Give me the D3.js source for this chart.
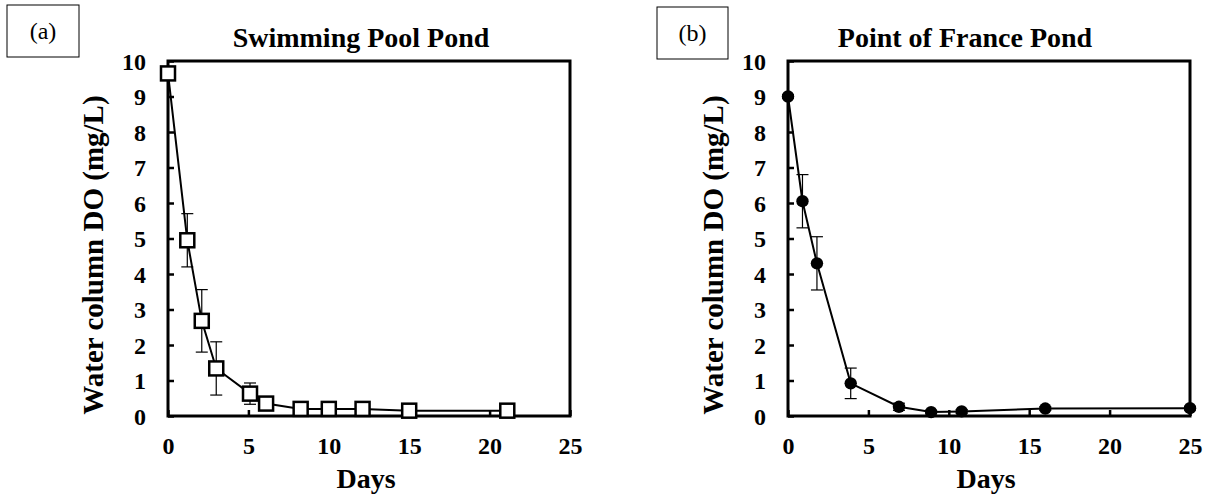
<!DOCTYPE html>
<html>
<head>
<meta charset="utf-8">
<script src="https://cdn.jsdelivr.net/npm/d3@7"></script>
<style>
  html, body { margin: 0; padding: 0; background: #fff; }
  svg text { font-family: "Liberation Serif", "Times New Roman", serif; fill: #000; }
</style>
</head>
<body>
<svg id="chart" width="1208" height="498"></svg>
<script>
// ---- data ----
const daysA = [0, 1.2, 2.1, 3.0, 5.1, 6.1, 8.25, 10, 12.1, 15, 21.1];
const doA   = [9.65, 4.95, 2.68, 1.34, 0.63, 0.35, 0.2, 0.2, 0.2, 0.15, 0.15];
const errA  = [0.05, 0.75, 0.88, 0.75, 0.3, 0.05, 0.03, 0.03, 0.03, 0.03, 0.03];

const daysB = [0, 0.9, 1.8, 3.9, 6.9, 8.9, 10.8, 16, 25];
const doB   = [9.0, 6.05, 4.3, 0.92, 0.26, 0.11, 0.13, 0.21, 0.22];
const errB  = [0.05, 0.75, 0.75, 0.43, 0.1, 0.05, 0.05, 0.05, 0.05];

const xTicks = [0, 5, 10, 15, 20, 25];
const yTicks = [0, 1, 2, 3, 4, 5, 6, 7, 8, 9, 10];

const panels = [
  { tag: "(a)", title: "Swimming Pool Pond", days: daysA, vals: doA, errs: errA, marker: "square",
    left: 168, right: 570, box: [7, 5, 72, 52], titleX: 361 },
  { tag: "(b)", title: "Point of France Pond", days: daysB, vals: doB, errs: errB, marker: "circle",
    left: 788, right: 1190, box: [657, 7, 71, 52], titleX: 965 }
];

const svg = d3.select("#chart");
const plotTop = 61, plotBottom = 416;
const serif = "'Liberation Serif', 'Times New Roman', serif";

panels.forEach(p => {
  const x = d3.scaleLinear().domain([0, 25]).range([p.left, p.right]);
  const y = d3.scaleLinear().domain([0, 10]).range([plotBottom, plotTop]);
  const g = svg.append("g");

  // label box
  g.append("rect").attr("x", p.box[0]).attr("y", p.box[1])
    .attr("width", p.box[2]).attr("height", p.box[3])
    .attr("fill", "none").attr("stroke", "#000").attr("stroke-width", 1);
  g.append("text").attr("x", p.box[0] + p.box[2] / 2).attr("y", p.box[1] + p.box[3] / 2 + 8)
    .attr("text-anchor", "middle").style("font-size", "24px").text(p.tag);

  // title
  g.append("text").attr("x", p.titleX).attr("y", 47)
    .attr("text-anchor", "middle").style("font-size", "28px").style("font-weight", "bold")
    .text(p.title);

  // axes
  const yAxis = d3.axisLeft(y).tickValues(yTicks).tickSizeInner(-6).tickSizeOuter(0).tickPadding(22)
    .tickFormat(d3.format("d"));
  const ya = g.append("g").attr("transform", `translate(${p.left},0)`).call(yAxis);
  const xAxis = d3.axisBottom(x).tickValues(xTicks).tickSizeInner(-6).tickSizeOuter(0).tickPadding(22)
    .tickFormat(d3.format("d"));
  const xa = g.append("g").attr("transform", `translate(0,${plotBottom})`).call(xAxis);
  [ya, xa].forEach(a => {
    a.attr("font-family", serif).attr("font-size", 24).attr("font-weight", "bold");
    a.select(".domain").remove();
    a.selectAll(".tick line").attr("stroke", "#000").attr("stroke-width", 2.5);
    a.selectAll(".tick text").attr("fill", "#000")
      .style("font-size", "24px").style("font-weight", "bold").style("font-family", serif);
  });
  ya.selectAll(".tick text").attr("dy", "0.34em");
  xa.selectAll(".tick text").attr("dy", "0.65em");

  // frame
  g.append("rect").attr("x", p.left).attr("y", plotTop)
    .attr("width", p.right - p.left).attr("height", plotBottom - plotTop)
    .attr("fill", "none").attr("stroke", "#000").attr("stroke-width", 3);

  // axis titles
  g.append("text")
    .attr("transform", `translate(${p.left - 65},255) rotate(-90)`)
    .attr("text-anchor", "middle").style("font-size", "29px").style("font-weight", "bold")
    .text("Water column DO (mg/L)");
  g.append("text").attr("x", (p.left + p.right) / 2 - 3).attr("y", 488)
    .attr("text-anchor", "middle").style("font-size", "28px").style("font-weight", "bold")
    .text("Days");

  const pts = p.days.map((d, i) => ({ d, v: p.vals[i], e: p.errs[i] }));

  // error bars
  const eb = g.append("g").attr("stroke", "#000").attr("stroke-width", 1.2);
  pts.forEach(pt => {
    const cx = x(pt.d);
    eb.append("line").attr("x1", cx).attr("x2", cx)
      .attr("y1", y(pt.v + pt.e)).attr("y2", y(Math.max(0, pt.v - pt.e)));
    [pt.v + pt.e, Math.max(0, pt.v - pt.e)].forEach(v => {
      eb.append("line").attr("x1", cx - 6).attr("x2", cx + 6).attr("y1", y(v)).attr("y2", y(v));
    });
  });

  // line
  g.append("path").datum(pts)
    .attr("fill", "none").attr("stroke", "#000").attr("stroke-width", 2)
    .attr("d", d3.line().x(d => x(d.d)).y(d => y(d.v)));

  // markers
  if (p.marker === "square") {
    g.selectAll("rect.mk").data(pts).enter().append("rect").attr("class", "mk")
      .attr("x", d => x(d.d) - 7).attr("y", d => y(d.v) - 7)
      .attr("width", 14).attr("height", 14)
      .attr("fill", "#fff").attr("stroke", "#000").attr("stroke-width", 2.5);
  } else {
    g.selectAll("circle.mk").data(pts).enter().append("circle").attr("class", "mk")
      .attr("cx", d => x(d.d)).attr("cy", d => y(d.v)).attr("r", 6.2)
      .attr("fill", "#000");
  }
});
</script>
</body>
</html>
